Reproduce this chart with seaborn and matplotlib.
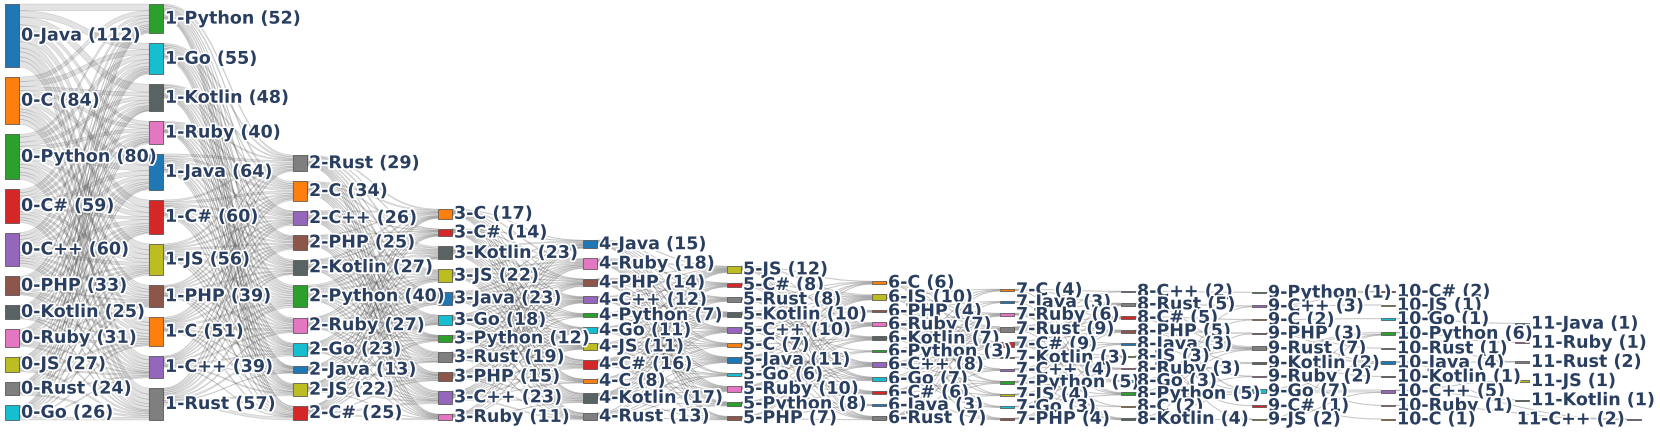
import numpy as np
import pandas as pd
import seaborn as sns
import matplotlib.pyplot as plt
from matplotlib.path import Path
from matplotlib.patches import PathPatch, Rectangle
import matplotlib.patheffects as pe

# node order (top to bottom) and counts for every step of the sequence
s0_langs = ['Java', 'C', 'Python', 'C#', 'C++', 'PHP', 'Kotlin', 'Ruby', 'JS', 'Rust', 'Go']
s0_vals = [112, 84, 80, 59, 60, 33, 25, 31, 27, 24, 26]
s1_langs = ['Python', 'Go', 'Kotlin', 'Ruby', 'Java', 'C#', 'JS', 'PHP', 'C', 'C++', 'Rust']
s1_vals = [52, 55, 48, 40, 64, 60, 56, 39, 51, 39, 57]
s2_langs = ['Rust', 'C', 'C++', 'PHP', 'Kotlin', 'Python', 'Ruby', 'Go', 'Java', 'JS', 'C#']
s2_vals = [29, 34, 26, 25, 27, 40, 27, 23, 13, 22, 25]
s3_langs = ['C', 'C#', 'Kotlin', 'JS', 'Java', 'Go', 'Python', 'Rust', 'PHP', 'C++', 'Ruby']
s3_vals = [17, 14, 23, 22, 23, 18, 12, 19, 15, 23, 11]
s4_langs = ['Java', 'Ruby', 'PHP', 'C++', 'Python', 'Go', 'JS', 'C#', 'C', 'Kotlin', 'Rust']
s4_vals = [15, 18, 14, 12, 7, 11, 11, 16, 8, 17, 13]
s5_langs = ['JS', 'C#', 'Rust', 'Kotlin', 'C++', 'C', 'Java', 'Go', 'Ruby', 'Python', 'PHP']
s5_vals = [12, 8, 8, 10, 10, 7, 11, 6, 10, 8, 7]
s6_langs = ['C', 'JS', 'PHP', 'Ruby', 'Kotlin', 'Python', 'C++', 'Go', 'C#', 'Java', 'Rust']
s6_vals = [6, 10, 4, 7, 7, 3, 8, 7, 6, 3, 7]
s7_langs = ['C', 'Java', 'Ruby', 'Rust', 'C#', 'Kotlin', 'C++', 'Python', 'JS', 'Go', 'PHP']
s7_vals = [4, 3, 6, 9, 9, 3, 4, 5, 4, 3, 4]
s8_langs = ['C++', 'Rust', 'C#', 'PHP', 'Java', 'JS', 'Ruby', 'Go', 'Python', 'C', 'Kotlin']
s8_vals = [2, 5, 5, 5, 3, 3, 3, 3, 5, 2, 4]
s9_langs = ['Python', 'C++', 'C', 'PHP', 'Rust', 'Kotlin', 'Ruby', 'Go', 'C#', 'JS']
s9_vals = [1, 3, 2, 3, 7, 2, 2, 7, 1, 2]
s10_langs = ['C#', 'JS', 'Go', 'Python', 'Rust', 'Java', 'Kotlin', 'C++', 'Ruby', 'C']
s10_vals = [2, 1, 1, 6, 1, 4, 1, 5, 1, 1]
s11_langs = ['Java', 'Ruby', 'Rust', 'JS', 'Kotlin', 'C++']
s11_vals = [1, 1, 2, 1, 1, 2]

# transitions: rows = source step order, columns = next step order
m01 = [[12, 11, 14, 7, 10, 13, 11, 7, 9, 7, 11],
       [8, 9, 7, 6, 10, 9, 8, 5, 6, 7, 9],
       [5, 9, 7, 6, 10, 8, 8, 6, 8, 5, 8],
       [6, 6, 5, 4, 8, 5, 6, 4, 6, 4, 5],
       [6, 6, 5, 4, 7, 7, 6, 4, 5, 4, 6],
       [3, 3, 2, 3, 5, 4, 3, 2, 4, 2, 2],
       [3, 2, 2, 2, 3, 3, 3, 2, 2, 1, 2],
       [3, 3, 2, 2, 4, 3, 3, 3, 3, 2, 3],
       [2, 2, 2, 2, 3, 3, 2, 2, 3, 3, 3],
       [2, 2, 1, 1, 2, 3, 3, 2, 3, 2, 3],
       [2, 2, 1, 3, 2, 2, 3, 2, 2, 2, 5]]
m12 = [[3, 4, 2, 2, 3, 4, 3, 2, 1, 2, 1],
       [3, 3, 3, 2, 3, 4, 2, 2, 1, 2, 3],
       [2, 3, 2, 2, 3, 4, 2, 2, 1, 2, 2],
       [2, 3, 2, 2, 2, 3, 2, 1, 1, 1, 2],
       [4, 4, 3, 3, 3, 4, 3, 3, 1, 2, 3],
       [3, 4, 3, 2, 3, 4, 3, 2, 2, 2, 3],
       [3, 3, 2, 3, 2, 4, 3, 2, 2, 3, 2],
       [2, 2, 2, 2, 2, 3, 2, 2, 1, 1, 1],
       [3, 3, 2, 2, 3, 3, 3, 2, 1, 2, 2],
       [2, 2, 2, 2, 1, 3, 2, 2, 1, 2, 1],
       [2, 3, 3, 3, 2, 4, 2, 3, 1, 3, 5]]
m23 = [[2, 1, 3, 2, 3, 2, 1, 2, 1, 2, 1],
       [2, 2, 3, 2, 3, 2, 1, 2, 2, 3, 1],
       [2, 1, 2, 2, 2, 2, 1, 2, 1, 2, 1],
       [1, 1, 2, 2, 2, 2, 1, 2, 1, 2, 1],
       [2, 1, 2, 2, 2, 2, 1, 2, 1, 2, 1],
       [3, 2, 3, 3, 3, 2, 2, 3, 2, 3, 1],
       [1, 2, 2, 2, 2, 2, 1, 2, 1, 2, 1],
       [1, 1, 2, 2, 2, 1, 1, 2, 2, 1, 1],
       [1, 1, 1, 1, 1, 1, 0, 1, 1, 1, 0],
       [1, 1, 1, 2, 2, 1, 1, 1, 2, 2, 1],
       [1, 1, 2, 2, 1, 1, 2, 0, 1, 3, 2]]
m34 = [[1, 2, 1, 1, 1, 1, 1, 1, 1, 1, 1],
       [1, 1, 1, 1, 0, 1, 1, 1, 1, 1, 1],
       [2, 2, 2, 1, 1, 1, 1, 2, 1, 2, 2],
       [2, 2, 1, 1, 1, 1, 1, 2, 1, 2, 2],
       [2, 2, 2, 2, 1, 1, 1, 2, 1, 2, 1],
       [1, 2, 1, 1, 1, 1, 1, 1, 1, 2, 1],
       [1, 1, 1, 1, 0, 1, 1, 1, 0, 1, 1],
       [2, 2, 1, 1, 1, 1, 1, 2, 0, 2, 1],
       [1, 1, 1, 1, 0, 1, 1, 2, 1, 1, 1],
       [1, 2, 2, 1, 1, 1, 1, 2, 1, 2, 2],
       [1, 1, 1, 1, 0, 1, 1, 0, 0, 1, 0]]
m45 = [[1, 1, 1, 1, 1, 1, 1, 0, 1, 1, 1],
       [2, 1, 1, 1, 1, 1, 1, 1, 1, 1, 1],
       [1, 1, 1, 1, 1, 0, 1, 1, 1, 1, 1],
       [1, 1, 0, 1, 1, 1, 1, 0, 1, 1, 0],
       [1, 0, 1, 0, 1, 0, 1, 0, 1, 0, 0],
       [1, 1, 1, 1, 0, 1, 1, 0, 1, 0, 1],
       [1, 0, 1, 1, 1, 1, 1, 1, 0, 1, 0],
       [1, 1, 1, 1, 1, 1, 1, 1, 1, 1, 1],
       [1, 1, 0, 1, 1, 0, 1, 0, 1, 0, 0],
       [1, 1, 1, 1, 1, 1, 1, 1, 1, 1, 1],
       [1, 0, 0, 1, 1, 0, 1, 1, 1, 1, 1]]

# later steps are sparse: (from, to, count)
l56 = [('JS', 'C', 1), ('JS', 'JS', 2), ('JS', 'Ruby', 1), ('JS', 'C++', 1), ('JS', 'Go', 1), ('JS', 'C#', 1), ('JS', 'Rust', 1),
       ('C#', 'JS', 1), ('C#', 'PHP', 1), ('C#', 'Kotlin', 1), ('C#', 'C++', 1), ('C#', 'Go', 1), ('C#', 'Rust', 1),
       ('Rust', 'C', 1), ('Rust', 'JS', 1), ('Rust', 'Ruby', 1), ('Rust', 'Kotlin', 1), ('Rust', 'Go', 1), ('Rust', 'C#', 1),
       ('Kotlin', 'C', 1), ('Kotlin', 'JS', 1), ('Kotlin', 'Kotlin', 1), ('Kotlin', 'Python', 1), ('Kotlin', 'C++', 1),
       ('Kotlin', 'Java', 1), ('Kotlin', 'Rust', 1),
       ('C++', 'JS', 1), ('C++', 'PHP', 1), ('C++', 'Ruby', 1), ('C++', 'C++', 1), ('C++', 'Go', 1), ('C++', 'C#', 1), ('C++', 'Rust', 1),
       ('C', 'C', 1), ('C', 'JS', 1), ('C', 'Kotlin', 1), ('C', 'Go', 1), ('C', 'Rust', 1),
       ('Java', 'C', 1), ('Java', 'JS', 1), ('Java', 'Ruby', 1), ('Java', 'Kotlin', 1), ('Java', 'C++', 1), ('Java', 'Go', 1),
       ('Java', 'C#', 1), ('Java', 'Rust', 1),
       ('Go', 'JS', 1), ('Go', 'Ruby', 1), ('Go', 'Python', 1), ('Go', 'C#', 1),
       ('Ruby', 'C', 1), ('Ruby', 'JS', 1), ('Ruby', 'PHP', 1), ('Ruby', 'Kotlin', 1), ('Ruby', 'C++', 1), ('Ruby', 'Go', 1), ('Ruby', 'Java', 1),
       ('Python', 'Ruby', 1), ('Python', 'Kotlin', 1), ('Python', 'Python', 1), ('Python', 'C++', 1), ('Python', 'C#', 1),
       ('PHP', 'PHP', 1), ('PHP', 'Ruby', 1), ('PHP', 'C++', 1), ('PHP', 'Java', 1), ('PHP', 'Rust', 1)]
l67 = [('C', 'Rust', 1), ('C', 'C#', 1), ('C', 'C++', 1), ('C', 'JS', 1), ('C', 'PHP', 1),
       ('JS', 'C', 1), ('JS', 'Ruby', 1), ('JS', 'Rust', 2), ('JS', 'C#', 1), ('JS', 'Python', 1), ('JS', 'Go', 1), ('JS', 'Kotlin', 1),
       ('PHP', 'Java', 1), ('PHP', 'C#', 1), ('PHP', 'Python', 1),
       ('Ruby', 'C', 1), ('Ruby', 'Ruby', 1), ('Ruby', 'Rust', 1), ('Ruby', 'C#', 1), ('Ruby', 'JS', 1), ('Ruby', 'PHP', 1),
       ('Kotlin', 'Ruby', 1), ('Kotlin', 'Rust', 1), ('Kotlin', 'C#', 1), ('Kotlin', 'C++', 1), ('Kotlin', 'Go', 1),
       ('Python', 'C', 1), ('Python', 'Java', 1),
       ('C++', 'Ruby', 1), ('C++', 'Rust', 1), ('C++', 'C#', 1), ('C++', 'Kotlin', 1), ('C++', 'Python', 1), ('C++', 'PHP', 1),
       ('Go', 'C', 1), ('Go', 'Rust', 1), ('Go', 'C#', 1), ('Go', 'C++', 1), ('Go', 'JS', 1), ('Go', 'Go', 1),
       ('C#', 'Ruby', 1), ('C#', 'Rust', 1), ('C#', 'C#', 1), ('C#', 'Python', 1), ('C#', 'PHP', 1),
       ('Java', 'Kotlin', 1), ('Java', 'JS', 1),
       ('Rust', 'Java', 1), ('Rust', 'Ruby', 1), ('Rust', 'Rust', 1), ('Rust', 'C#', 1), ('Rust', 'C++', 1), ('Rust', 'Python', 1)]
l78 = [('C', 'C++', 1), ('C', 'Rust', 1), ('C', 'Python', 1),
       ('Java', 'C#', 1), ('Java', 'Kotlin', 1),
       ('Ruby', 'Rust', 1), ('Ruby', 'PHP', 1), ('Ruby', 'Go', 1), ('Ruby', 'Python', 1),
       ('Rust', 'C++', 1), ('Rust', 'Rust', 1), ('Rust', 'C#', 1), ('Rust', 'PHP', 1), ('Rust', 'Java', 1), ('Rust', 'Ruby', 1), ('Rust', 'Kotlin', 1),
       ('C#', 'Rust', 1), ('C#', 'C#', 1), ('C#', 'PHP', 1), ('C#', 'JS', 1), ('C#', 'Go', 1), ('C#', 'Python', 1), ('C#', 'C', 1),
       ('Kotlin', 'Java', 1), ('Kotlin', 'Ruby', 1),
       ('C++', 'C#', 1), ('C++', 'JS', 1), ('C++', 'Kotlin', 1),
       ('Python', 'Rust', 1), ('Python', 'PHP', 1), ('Python', 'Python', 1), ('Python', 'Kotlin', 1),
       ('JS', 'Java', 1), ('JS', 'Go', 1), ('JS', 'C', 1),
       ('Go', 'C#', 1), ('Go', 'Python', 1),
       ('PHP', 'PHP', 1), ('PHP', 'JS', 1), ('PHP', 'Ruby', 1)]
l89 = [('C++', 'Python', 1),
       ('Rust', 'C++', 2), ('Rust', 'Rust', 2),
       ('C#', 'C', 1), ('C#', 'Rust', 1), ('C#', 'Go', 2),
       ('PHP', 'PHP', 2), ('PHP', 'Rust', 1), ('PHP', 'Kotlin', 1),
       ('Java', 'Rust', 1), ('Java', 'Ruby', 1),
       ('JS', 'Go', 1), ('JS', 'JS', 1),
       ('Ruby', 'Rust', 1), ('Ruby', 'C#', 1),
       ('Go', 'C', 1), ('Go', 'Kotlin', 1),
       ('Python', 'Go', 3), ('Python', 'Rust', 1), ('Python', 'C++', 1),
       ('C', 'Ruby', 1),
       ('Kotlin', 'PHP', 1), ('Kotlin', 'Go', 1), ('Kotlin', 'JS', 1)]
l910 = [('Python', 'C#', 1),
        ('C++', 'JS', 1), ('C++', 'C#', 1),
        ('C', 'Go', 1),
        ('PHP', 'Java', 1), ('PHP', 'Rust', 1),
        ('Rust', 'Python', 4), ('Rust', 'Java', 2),
        ('Kotlin', 'Kotlin', 1),
        ('Ruby', 'Ruby', 1),
        ('Go', 'C++', 4), ('Go', 'Python', 1), ('Go', 'Java', 1),
        ('C#', 'C', 1),
        ('JS', 'C++', 1), ('JS', 'Python', 1)]
l1011 = [('Go', 'Java', 1), ('Python', 'Ruby', 1), ('Python', 'Rust', 1), ('Java', 'Rust', 1),
         ('C++', 'JS', 1), ('Java', 'Kotlin', 1), ('C++', 'C++', 1), ('Ruby', 'C++', 1)]

sns.set_theme(style='white')
plt.rcParams['font.family'] = ['DejaVu Sans']

tab = sns.color_palette('tab10')
colors = {'Java': tab[0], 'C': tab[1], 'Python': tab[2], 'C#': tab[3], 'C++': tab[4],
          'PHP': tab[5], 'Ruby': tab[6], 'Rust': tab[7], 'JS': tab[8], 'Go': tab[9],
          'Kotlin': '#5a6363'}

stages = [(s0_langs, s0_vals), (s1_langs, s1_vals), (s2_langs, s2_vals), (s3_langs, s3_vals),
          (s4_langs, s4_vals), (s5_langs, s5_vals), (s6_langs, s6_vals), (s7_langs, s7_vals),
          (s8_langs, s8_vals), (s9_langs, s9_vals), (s10_langs, s10_vals), (s11_langs, s11_vals)]

rows = []
for k, m in enumerate([m01, m12, m23, m34, m45]):
    for i, src in enumerate(stages[k][0]):
        for j, dst in enumerate(stages[k + 1][0]):
            if m[i][j] > 0:
                rows.append((k, src, dst, m[i][j]))
for k, lst in zip(range(5, 11), [l56, l67, l78, l89, l910, l1011]):
    for src, dst, v in lst:
        rows.append((k, src, dst, v))
links = pd.DataFrame(rows, columns=['step', 'src', 'dst', 'value'])

# layout in pixels
K = 0.5625
W = 14
BOT = 420
col_x = [5, 149, 293, 438, 583, 727, 872, 1000, 1121, 1252, 1381, 1515]
col_top = [4, 4, 155, 209, 240, 266, 281, 289, 291, 292, 291, 323]

nodes = {}
for k, (langs, vals) in enumerate(stages):
    hs = [max(v * K, 1.3) for v in vals]
    gap = (BOT - col_top[k] - sum(hs)) / (len(hs) - 1)
    y = col_top[k]
    for lang, v, h in zip(langs, vals, hs):
        nodes[(k, lang)] = {'x': col_x[k], 'y': y, 'h': h, 'v': v}
        y += h + gap
nodes[(11, 'C++')]['x'] = 1627

fig = plt.figure(figsize=(16.6, 4.34), dpi=100)
ax = fig.add_axes([0, 0, 1, 1])
ax.set_xlim(0, 1660)
ax.set_ylim(434, 0)
ax.axis('off')

# stack link ends on each node
links['sy'] = 0.0
links['ty'] = 0.0
for k in range(11):
    sub = links[links.step == k]
    for src, grp in sub.groupby('src'):
        order = sorted(grp.index, key=lambda i: nodes[(k + 1, links.at[i, 'dst'])]['y'])
        y = nodes[(k, src)]['y']
        for i in order:
            links.at[i, 'sy'] = y
            y += links.at[i, 'value'] * K
    for dst, grp in sub.groupby('dst'):
        order = sorted(grp.index, key=lambda i: nodes[(k, links.at[i, 'src'])]['y'])
        y = nodes[(k + 1, dst)]['y']
        for i in order:
            links.at[i, 'ty'] = y
            y += links.at[i, 'value'] * K

for _, r in links.iterrows():
    a = nodes[(r.step, r.src)]
    b = nodes[(r.step + 1, r.dst)]
    x0 = a['x'] + W
    x1 = b['x']
    xm = (x0 + x1) / 2
    t = r.value * K
    verts = [(x0, r.sy), (xm, r.sy), (xm, r.ty), (x1, r.ty),
             (x1, r.ty + t), (xm, r.ty + t), (xm, r.sy + t), (x0, r.sy + t), (x0, r.sy)]
    codes = [Path.MOVETO, Path.CURVE4, Path.CURVE4, Path.CURVE4,
             Path.LINETO, Path.CURVE4, Path.CURVE4, Path.CURVE4, Path.CLOSEPOLY]
    ax.add_patch(PathPatch(Path(verts, codes), facecolor=(0, 0, 0, 0.11),
                           edgecolor=(0.4, 0.4, 0.4, 0.28), lw=0.4, zorder=1))

for (k, lang), n in nodes.items():
    ax.add_patch(Rectangle((n['x'], n['y']), W, n['h'], facecolor=colors[lang],
                           edgecolor='#444444', lw=0.5, zorder=2))
    label = f'{k}-{lang} ({n["v"]})'
    if n['x'] > 1600:
        tx, ha = n['x'] - 2, 'right'
    else:
        tx, ha = n['x'] + W + 2, 'left'
    ax.text(tx, n['y'] + n['h'] / 2, label, ha=ha, va='center', fontsize=12.6,
            fontweight='bold', color='#2a3f5f', zorder=3,
            path_effects=[pe.withStroke(linewidth=2.5, foreground='white')])

fig.savefig('out.png', dpi=100)
